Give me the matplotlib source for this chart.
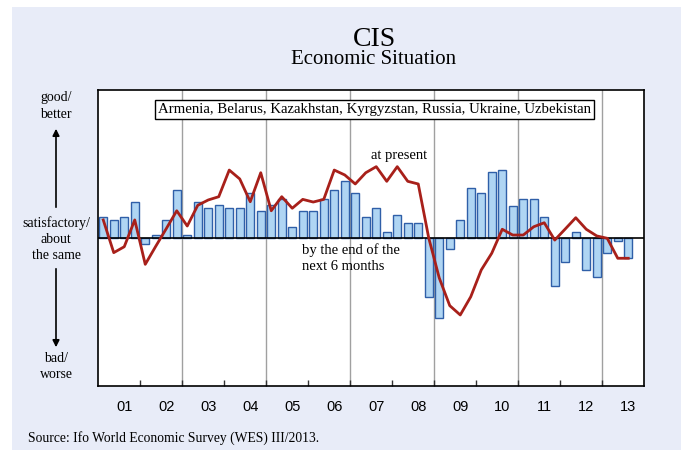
import matplotlib
matplotlib.use('Agg')
from matplotlib import pyplot as plt
from matplotlib.patches import Rectangle, FancyArrowPatch
import numpy as np

# Quarterly values, 2001 Q1 .. 2013 Q3 (balance-like scale, zero = satisfactory)
bars_expect = [14, 12.2, 14, 24.3,
               -4.1, 1.8, 12.2, 32.2,
               1.8, 24.3, 20.1, 22.1,
               20.1, 20.1, 30.4, 18.2,
               22.1, 26.1, 7.6, 18.2,
               18.2, 26.1, 32.2, 38.3,
               30.4, 14, 20.1, 4.3,
               15.7, 10.3, 10.3, -40.1,
               -54.3, -7.6, 12.2, 34,
               30.4, 44.4, 46.1, 21.8,
               26.1, 26.1, 14, -32.2,
               -16, 4.3, -21.8, -26.1,
               -10.3, -1.8, -13.7]

line_present = [12.2, -9.9, -5.9, 12.2,
                -17.8, -5.6, 6.3, 18.4,
                8.1, 22.1, 25.7, 27.9,
                45.9, 39.9, 24.5, 44.1,
                18.4, 27.9, 20.1, 26.1,
                24.3, 26.1, 45.9, 42.6,
                36.5, 44.1, 48.2, 38.3,
                48.2, 38.3, 36.5, 0,
                -27, -45.7, -52, -39.7,
                -21.6, -10.3, 5.9, 2,
                2, 7.6, 10.3, -1.4,
                6.1, 13.7, 5.9, 1.4,
                -0.2, -13.7, -13.7]

year_labels = ['01', '02', '03', '04', '05', '06', '07', '08', '09', '10', '11', '12', '13']
countries = 'Armenia, Belarus, Kazakhstan, Kyrgyzstan, Russia, Ukraine, Uzbekistan'

W, H = 681, 450
serif = ['Liberation Serif', 'DejaVu Serif']
sans = ['Liberation Sans', 'DejaVu Sans']

fig = plt.figure(figsize=(W / 100, H / 100), dpi=100)
fig.patch.set_facecolor('white')

# Fond lavande derrière tout le graphique
fig.patches.append(Rectangle((12 / W, 0), 1 - 12 / W, (H - 7) / H, transform=fig.transFigure,
                             facecolor='#E8ECF8', edgecolor='none', zorder=-10))

ax = fig.add_axes([98 / W, (H - 386) / H, 546 / W, 296 / H])
ax.set_facecolor('white')

x = np.arange(len(bars_expect)) + 0.5
ax.bar(x, bars_expect, width=0.8, color='#AFD5F3', edgecolor='#2F5FA8', linewidth=1.0, zorder=2)
ax.plot(x, line_present, color='#A8201A', linewidth=2.0, zorder=4)
ax.axhline(0, color='black', linewidth=1.2, zorder=3)

# Lignes verticales toutes les deux années
for q in range(8, 52, 8):
    ax.axvline(q, color='#A0A0A0', linewidth=1.0, zorder=1)

ax.set_xlim(0, 52)
ax.set_ylim(-100, 100)
ax.set_yticks([])
ax.set_xticks(np.arange(4, 52, 4))
ax.set_xticklabels([])
ax.tick_params(axis='x', direction='in', length=4, width=1, color='#333333')
ax.set_xticks(np.arange(len(year_labels)) * 4 + 2.5, minor=True)
ax.set_xticklabels(year_labels, minor=True, fontfamily=sans, fontsize=10.5)
ax.tick_params(axis='x', which='minor', length=0, pad=10)
for s in ax.spines.values():
    s.set_linewidth(1.2)
    s.set_color('black')

ax.text(0.506, 0.934, countries, transform=ax.transAxes, ha='center', va='center',
        fontfamily=serif, fontsize=10.75, zorder=6,
        bbox=dict(facecolor='white', edgecolor='black', linewidth=1.0, boxstyle='square,pad=0.2'))

# Positions en pixels -> fraction de figure
def px(xp, yp):
    return xp / W, 1 - yp / H

fig.text(*px(399, 156), 'at present', ha='center', va='center', fontfamily=serif, fontsize=10.5)
fig.text(*px(302, 250), 'by the end of the', ha='left', va='center', fontfamily=serif, fontsize=10.5)
fig.text(*px(302, 267), 'next 6 months', ha='left', va='center', fontfamily=serif, fontsize=10.5)

fig.text(*px(374, 40), 'CIS', ha='center', va='center', fontfamily=serif, fontsize=20)
fig.text(*px(374, 60), 'Economic Situation', ha='center', va='center', fontfamily=serif, fontsize=15)

# Légende de l'axe vertical à gauche
fig.text(*px(56, 106), 'good/\nbetter', ha='center', va='center', fontfamily=serif, fontsize=10,
         linespacing=1.3)
fig.text(*px(56, 239), 'satisfactory/\nabout\nthe same', ha='center', va='center', fontfamily=serif,
         fontsize=10, linespacing=1.3)
fig.text(*px(56, 367), 'bad/\nworse', ha='center', va='center', fontfamily=serif, fontsize=10,
         linespacing=1.3)
fig.patches.append(FancyArrowPatch(px(56, 210), px(56, 126), transform=fig.transFigure,
                                   arrowstyle='-|>,head_length=4,head_width=2',
                                   color='black', linewidth=1.2))
fig.patches.append(FancyArrowPatch(px(56, 266), px(56, 350), transform=fig.transFigure,
                                   arrowstyle='-|>,head_length=4,head_width=2',
                                   color='black', linewidth=1.2))

fig.text(*px(28, 438), 'Source: Ifo World Economic Survey (WES) III/2013.', ha='left', va='center',
         fontfamily=serif, fontsize=9.8)

fig.savefig('out.png', dpi=100)
